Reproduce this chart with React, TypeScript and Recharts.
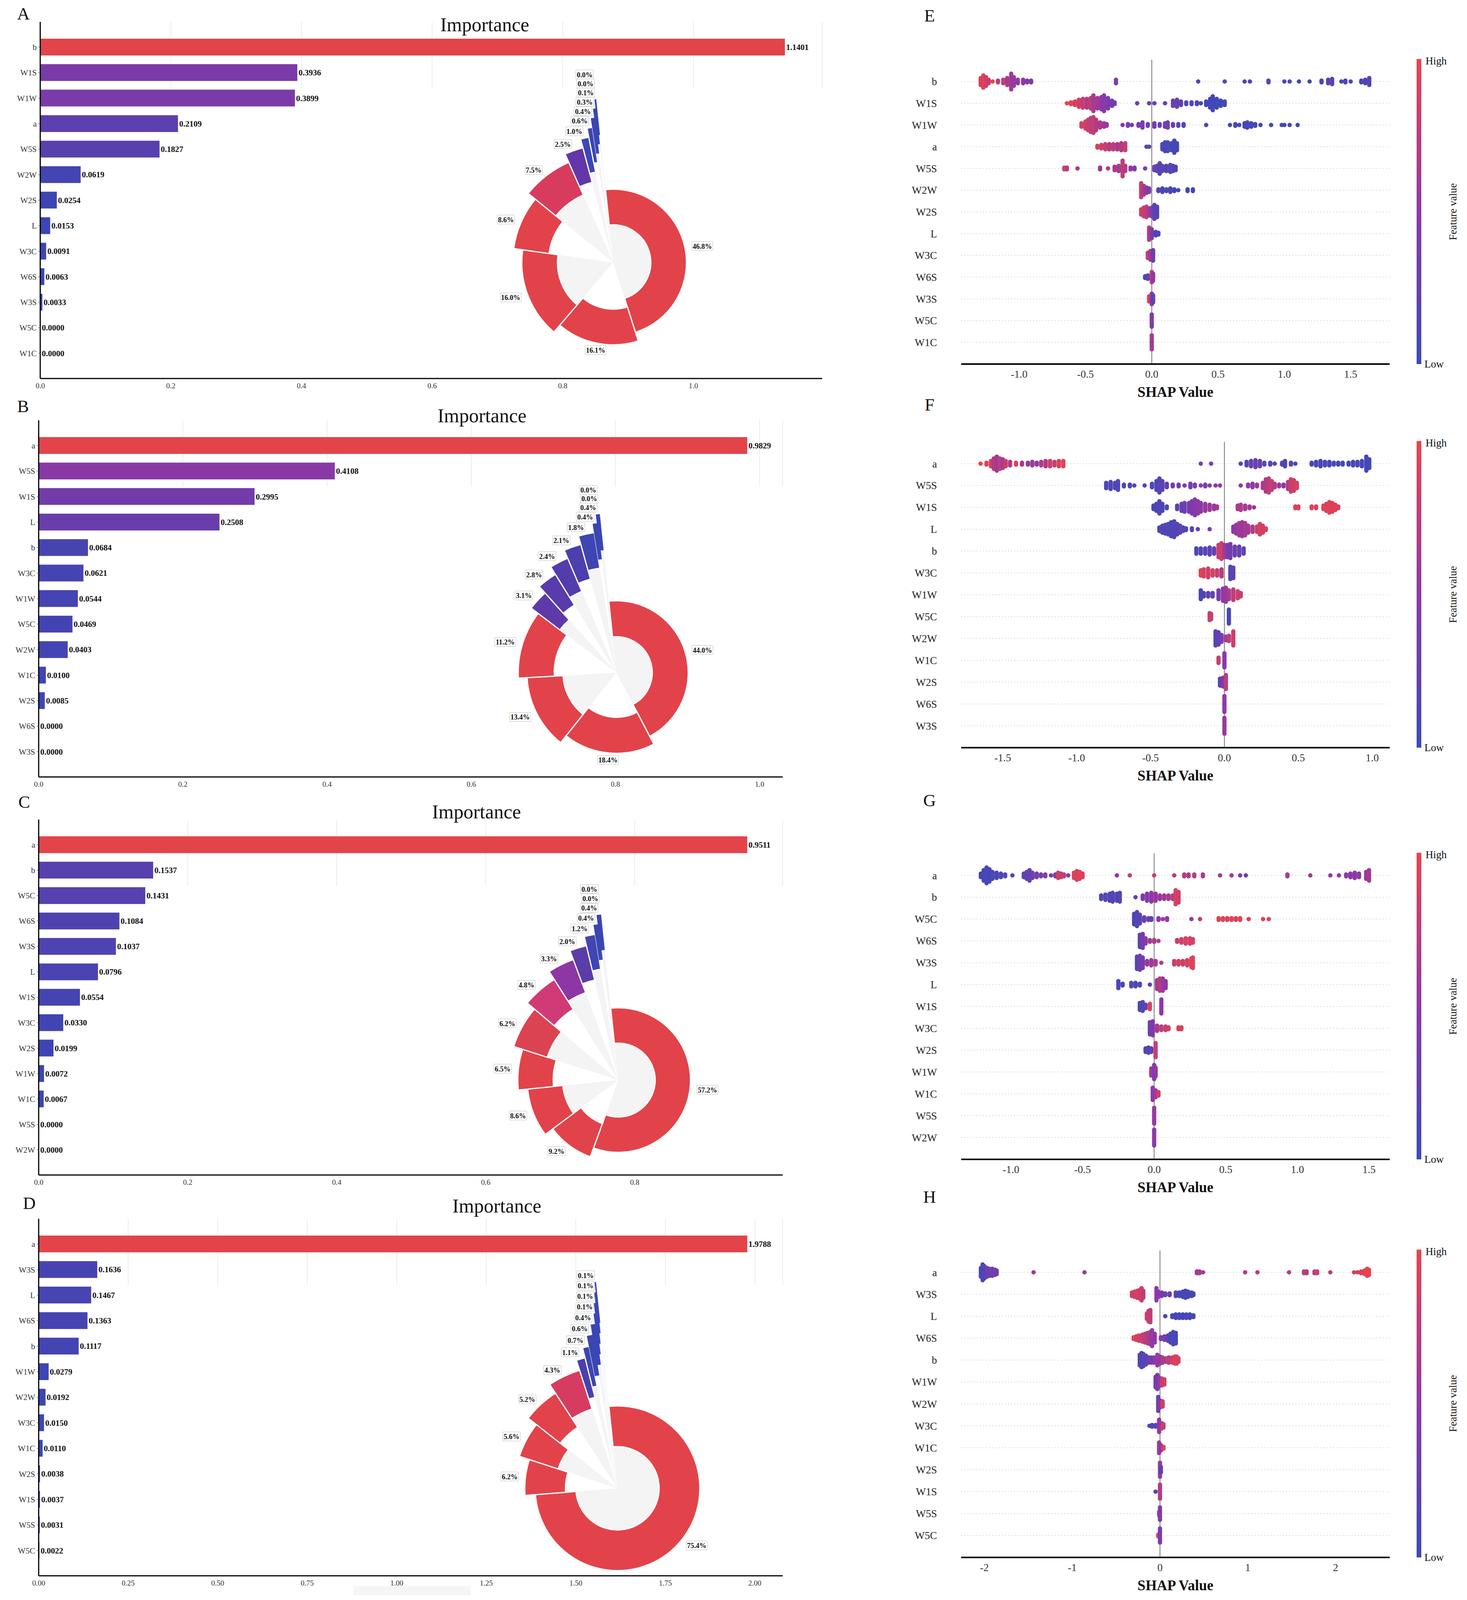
import React from "react";
import {
  BarChart,
  Bar,
  XAxis,
  YAxis,
  CartesianGrid,
  LabelList,
  Cell,
  PieChart,
  Pie,
  ScatterChart,
  Scatter,
  ReferenceLine,
} from "recharts";

const SERIF = "'Liberation Serif', 'Times New Roman', Times, serif";

// the browser captures 4096px of height, so the 5182px layout is packed vertically
const S = 4096 / 5182;
const R = 0.86; // radius scale of the nested pies
const y = (v: number) => Math.round(v * S);

// ---------- importance (left column) ----------
const namesA = ["b", "W1S", "W1W", "a", "W5S", "W2W", "W2S", "L", "W3C", "W6S", "W3S", "W5C", "W1C"];
const importanceA = [1.1401, 0.3936, 0.3899, 0.2109, 0.1827, 0.0619, 0.0254, 0.0153, 0.0091, 0.0063, 0.0033, 0.0, 0.0];
const ticksA = [0, 0.2, 0.4, 0.6, 0.8, 1.0];

const namesB = ["a", "W5S", "W1S", "L", "b", "W3C", "W1W", "W5C", "W2W", "W1C", "W2S", "W6S", "W3S"];
const importanceB = [0.9829, 0.4108, 0.2995, 0.2508, 0.0684, 0.0621, 0.0544, 0.0469, 0.0403, 0.01, 0.0085, 0.0, 0.0];
const ticksB = [0, 0.2, 0.4, 0.6, 0.8, 1.0];

const namesC = ["a", "b", "W5C", "W6S", "W3S", "L", "W1S", "W3C", "W2S", "W1W", "W1C", "W5S", "W2W"];
const importanceC = [0.9511, 0.1537, 0.1431, 0.1084, 0.1037, 0.0796, 0.0554, 0.033, 0.0199, 0.0072, 0.0067, 0.0, 0.0];
const ticksC = [0, 0.2, 0.4, 0.6, 0.8];

const namesD = ["a", "W3S", "L", "W6S", "b", "W1W", "W2W", "W3C", "W1C", "W2S", "W1S", "W5S", "W5C"];
const importanceD = [1.9788, 0.1636, 0.1467, 0.1363, 0.1117, 0.0279, 0.0192, 0.015, 0.011, 0.0038, 0.0037, 0.0031, 0.0022];
const ticksD = [0, 0.25, 0.5, 0.75, 1.0, 1.25, 1.5, 1.75, 2.0];

const RED = "#e2434a";
const BLU = "#3b46b3";
const pieColorsA = [RED, RED, RED, RED, "#d73c5f", "#6336aa", "#3c47b6", BLU, BLU, BLU, BLU, BLU, BLU];
const pieColorsB = [RED, RED, RED, RED, "#5e3aa9", "#583cab", "#533dac", "#4c3fae", "#3f45b2", BLU, BLU, BLU, BLU];
const pieColorsC = [RED, RED, RED, RED, "#dc4352", "#d03b76", "#8d37a4", "#5a3da9", "#3e46b3", BLU, BLU, BLU, BLU];
const pieColorsD = [RED, RED, RED, RED, "#d63c62", "#4a40ae", BLU, BLU, BLU, BLU, BLU, BLU, BLU];

// ---------- SHAP beeswarm (right column) ----------
// each cluster: [shap value, number of stacked samples, feature value 0 (low) .. 1 (high)]
type Cl = [number, number, number];

const featE = ["b", "W1S", "W1W", "a", "W5S", "W2W", "W2S", "L", "W3C", "W6S", "W3S", "W5C", "W1C"];
const shapE: Cl[][] = [
  [[-1.29,5,0.9],[-1.27,8,0.95],[-1.25,6,0.85],[-1.23,3,0.8],[-1.2,1,1],[-1.16,2,0.7],[-1.12,3,0.75],[-1.09,5,0.65],[-1.06,10,0.6],[-1.04,6,0.55],[-1.01,3,0.5],[-0.97,3,0.45],[-0.94,2,0.45],[-0.91,2,0.4],
   [-0.27,3,0.4],[0.35,1,0.1],[0.55,1,0.2],[0.7,1,0.1],[0.74,1,0.1],[0.88,2,0.15],[1.0,1,0.1],[1.04,1,0.1],[1.11,1,0.05],[1.19,1,0.05],[1.28,2,0.1],[1.33,3,0.15],[1.36,4,0.2],[1.43,1,0.05],[1.46,2,0.1],[1.5,1,0.1],[1.58,2,0.1],[1.61,3,0.1],[1.64,5,0.15]],
  [[-0.64,1,1],[-0.61,2,0.95],[-0.58,3,0.9],[-0.55,5,0.85],[-0.52,6,0.8],[-0.49,6,0.7],[-0.46,7,0.75],[-0.44,10,0.65],[-0.41,7,0.6],[-0.38,8,0.5],[-0.36,10,0.45],[-0.33,7,0.4],[-0.3,4,0.35],[-0.28,2,0.35],
   [-0.11,1,0.3],[-0.02,1,0.2],[0.02,1,0.2],[0.1,1,0.25],[0.16,4,0.3],[0.19,5,0.25],[0.22,3,0.2],[0.26,2,0.15],[0.3,2,0.1],[0.34,2,0.1],[0.37,1,0.1],[0.41,3,0.05],[0.44,6,0.05],[0.46,9,0.05],[0.49,6,0.05],[0.52,4,0.05],[0.55,3,0.05]],
  [[-0.53,3,0.9],[-0.5,5,0.85],[-0.48,7,0.8],[-0.46,9,0.75],[-0.44,10,0.8],[-0.42,7,0.7],[-0.39,4,0.65],[-0.36,3,0.6],[-0.34,2,0.55],
   [-0.22,1,0.4],[-0.18,2,0.4],[-0.15,1,0.35],[-0.1,2,0.35],[-0.07,4,0.4],[-0.03,2,0.3],[0.02,3,0.35],[0.06,2,0.3],[0.1,3,0.3],[0.12,4,0.35],[0.16,2,0.25],[0.2,2,0.2],[0.24,2,0.15],
   [0.41,1,0.1],[0.59,1,0.05],[0.63,2,0.1],[0.66,1,0.05],[0.7,3,0.05],[0.72,4,0.1],[0.75,3,0.05],[0.78,2,0.05],[0.82,1,0.05],[0.9,1,0.05],[0.98,1,0.05],[1.0,1,0.05],[1.04,1,0.05],[1.1,1,0.05]],
  [[-0.41,2,0.9],[-0.38,3,0.85],[-0.35,4,0.8],[-0.32,4,0.7],[-0.29,4,0.75],[-0.26,4,0.65],[-0.23,5,0.7],[-0.2,5,0.8],[-0.04,1,0.2],[-0.02,1,0.2],
   [0.08,4,0.1],[0.1,6,0.05],[0.12,6,0.1],[0.15,5,0.05],[0.17,8,0.05],[0.19,5,0.05]],
  [[-0.66,2,0.85],[-0.64,2,0.7],[-0.56,1,0.6],[-0.39,2,0.55],[-0.33,1,0.7],[-0.28,3,0.6],[-0.25,4,0.65],[-0.22,10,0.75],[-0.2,4,0.7],[-0.16,2,0.5],[-0.13,2,0.45],[-0.05,1,0.4],
   [0.02,3,0.3],[0.04,4,0.25],[0.06,7,0.15],[0.08,4,0.2],[0.11,4,0.15],[0.14,5,0.2],[0.16,4,0.15],[0.18,3,0.1]],
  [[-0.08,9,0.8],[-0.06,6,0.65],[-0.04,4,0.5],[-0.02,3,0.4],[0.05,2,0.15],[0.08,3,0.1],[0.11,2,0.1],[0.14,3,0.1],[0.17,2,0.05],[0.2,1,0.05],[0.27,2,0.05],[0.31,2,0.05]],
  [[-0.08,4,0.85],[-0.06,6,0.8],[-0.04,7,0.75],[-0.02,5,0.6],[0.0,6,0.4],[0.02,9,0.2],[0.04,7,0.15]],
  [[-0.02,8,0.7],[0.0,6,0.4],[0.03,3,0.1],[0.05,2,0.1]],
  [[-0.03,4,0.8],[-0.01,6,0.6],[0.01,7,0.3]],
  [[-0.05,2,0.1],[-0.03,3,0.2],[0.0,7,0.8],[0.01,5,0.5]],
  [[-0.02,4,0.9],[0.0,7,0.5],[0.01,5,0.2]],
  [[0.0,8,0.4]],
  [[0.0,9,0.6]],
];

const featF = ["a", "W5S", "W1S", "L", "b", "W3C", "W1W", "W5C", "W2W", "W1C", "W2S", "W6S", "W3S"];
const shapF: Cl[][] = [
  [[-1.65,1,1],[-1.61,2,0.95],[-1.58,4,0.85],[-1.56,7,0.7],[-1.54,9,0.6],[-1.52,7,0.75],[-1.5,6,0.65],[-1.48,4,0.8],[-1.45,3,0.7],[-1.41,2,0.9],[-1.37,2,0.6],[-1.33,2,0.55],[-1.3,3,0.6],[-1.27,2,0.5],[-1.24,3,0.7],[-1.21,4,0.65],[-1.18,4,0.85],[-1.15,3,0.8],[-1.12,4,0.9],[-1.09,4,0.95],
   [-0.16,1,0.4],[-0.09,1,0.4],
   [0.11,1,0.1],[0.15,3,0.2],[0.18,4,0.25],[0.21,5,0.3],[0.24,4,0.25],[0.27,2,0.2],[0.31,2,0.15],[0.34,1,0.1],[0.39,2,0.15],[0.41,4,0.1],[0.45,2,0.1],[0.48,1,0.1],
   [0.59,2,0.05],[0.62,3,0.1],[0.65,4,0.05],[0.68,3,0.1],[0.71,3,0.05],[0.74,2,0.1],[0.77,2,0.05],[0.8,2,0.1],[0.84,2,0.05],[0.87,3,0.05],[0.9,3,0.1],[0.93,4,0.05],[0.96,9,0.05],[0.98,6,0.05]],
  [[-0.8,4,0.1],[-0.77,5,0.15],[-0.74,4,0.1],[-0.72,6,0.15],[-0.68,2,0.1],[-0.64,2,0.1],[-0.61,1,0.1],[-0.54,1,0.15],[-0.49,3,0.15],[-0.46,6,0.1],[-0.44,9,0.15],[-0.42,6,0.2],[-0.39,3,0.2],[-0.35,2,0.3],[-0.31,2,0.35],[-0.27,1,0.3],[-0.23,3,0.35],[-0.2,2,0.4],[-0.16,1,0.45],[-0.13,2,0.4],[-0.1,1,0.45],[-0.06,1,0.45],[-0.03,1,0.5],
   [0.11,1,0.5],[0.16,2,0.55],[0.19,3,0.5],[0.22,2,0.6],[0.26,4,0.65],[0.28,8,0.7],[0.3,9,0.75],[0.32,6,0.8],[0.34,3,0.7],[0.37,2,0.55],[0.4,2,0.5],[0.43,5,0.7],[0.45,8,0.8],[0.47,7,0.85],[0.49,4,0.9]],
  [[-0.48,3,0.1],[-0.46,5,0.1],[-0.44,8,0.15],[-0.42,5,0.1],[-0.39,2,0.15],[-0.32,3,0.2],[-0.29,5,0.25],[-0.27,6,0.3],[-0.24,6,0.35],[-0.22,8,0.4],[-0.2,10,0.45],[-0.18,8,0.5],[-0.16,6,0.5],[-0.13,5,0.55],[-0.1,4,0.6],[-0.07,3,0.55],[-0.05,2,0.6],
   [0.09,3,0.65],[0.11,4,0.7],[0.14,3,0.6],[0.17,2,0.6],[0.2,1,0.55],
   [0.48,2,0.95],[0.5,2,0.9],[0.59,2,0.95],[0.62,2,0.9],[0.67,3,0.95],[0.69,5,0.9],[0.71,7,0.95],[0.73,6,0.9],[0.75,4,0.95],[0.77,2,0.9]],
  [[-0.44,3,0.1],[-0.42,5,0.15],[-0.4,6,0.1],[-0.38,7,0.15],[-0.36,9,0.1],[-0.34,10,0.15],[-0.32,7,0.1],[-0.3,5,0.2],[-0.28,3,0.2],[-0.26,2,0.15],[-0.22,2,0.2],[-0.18,1,0.25],[-0.1,1,0.4],
   [0.06,4,0.5],[0.08,6,0.55],[0.1,8,0.6],[0.12,9,0.55],[0.14,8,0.65],[0.16,5,0.6],[0.19,4,0.7],[0.22,4,0.8],[0.24,7,0.9],[0.26,5,0.85],[0.28,2,0.9]],
  [[-0.19,4,0.1],[-0.16,4,0.15],[-0.13,4,0.15],[-0.1,5,0.2],[-0.07,4,0.25],[-0.04,8,0.8],[-0.02,10,0.85],[0.0,8,0.6],[0.02,8,0.4],[0.04,9,0.35],[0.07,6,0.3],[0.1,6,0.25],[0.13,4,0.2]],
  [[-0.16,4,0.95],[-0.14,5,0.9],[-0.11,6,0.85],[-0.08,4,0.9],[-0.05,4,0.8],[-0.02,5,0.7],[0.04,8,0.15],[0.06,7,0.2]],
  [[-0.16,6,0.1],[-0.14,3,0.15],[-0.11,3,0.2],[-0.08,3,0.25],[-0.04,6,0.4],[-0.01,8,0.5],[0.01,9,0.55],[0.03,6,0.65],[0.06,7,0.75],[0.09,5,0.85],[0.11,3,0.8]],
  [[-0.1,5,0.85],[-0.09,4,0.8],[0.03,9,0.1]],
  [[-0.06,9,0.15],[-0.04,8,0.2],[-0.02,5,0.4],[0.01,3,0.55],[0.03,4,0.75],[0.06,9,0.85]],
  [[-0.04,4,0.8],[0.0,9,0.45]],
  [[-0.03,5,0.2],[-0.01,6,0.4],[0.01,9,0.75]],
  [[0.0,10,0.5]],
  [[0.0,10,0.55]],
];

const featG = ["a", "b", "W5C", "W6S", "W3S", "L", "W1S", "W3C", "W2S", "W1W", "W1C", "W5S", "W2W"];
const shapG: Cl[][] = [
  [[-1.21,3,0.05],[-1.19,7,0.05],[-1.17,10,0.1],[-1.15,8,0.05],[-1.13,5,0.1],[-1.1,4,0.1],[-1.07,3,0.1],[-1.04,2,0.15],[-0.99,1,0.15],
   [-0.91,3,0.15],[-0.89,5,0.2],[-0.87,7,0.25],[-0.85,4,0.3],[-0.82,3,0.35],[-0.79,2,0.3],[-0.76,2,0.4],[-0.72,1,0.35],[-0.69,2,0.4],[-0.67,4,0.85],[-0.65,3,0.8],[-0.63,2,0.75],[-0.6,1,0.45],[-0.56,4,0.95],[-0.54,6,0.9],[-0.52,5,0.95],[-0.5,3,0.9],
   [-0.26,1,0.5],[-0.17,1,0.8],[0.0,1,0.8],[0.14,1,0.7],[0.21,2,0.7],[0.24,2,0.65],[0.28,2,0.7],[0.34,2,0.65],[0.46,1,0.6],[0.54,1,0.6],[0.6,1,0.4],[0.64,1,0.35],
   [0.93,2,0.6],[1.09,1,0.6],[1.23,1,0.55],[1.29,1,0.55],[1.34,2,0.5],[1.37,3,0.45],[1.4,4,0.5],[1.43,3,0.45],[1.48,5,0.55],[1.5,7,0.6]],
  [[-0.37,3,0.1],[-0.34,4,0.15],[-0.31,5,0.1],[-0.29,6,0.15],[-0.26,5,0.1],[-0.24,6,0.15],[-0.13,1,0.2],[-0.08,3,0.4],[-0.05,5,0.45],[-0.02,6,0.5],[0.01,5,0.55],[0.04,3,0.55],[0.07,3,0.6],[0.1,3,0.65],[0.13,3,0.7],[0.15,9,0.9],[0.17,7,0.85]],
  [[-0.14,7,0.1],[-0.12,9,0.15],[-0.1,6,0.2],[-0.07,3,0.25],[-0.04,2,0.3],[-0.02,2,0.2],[0.03,2,0.5],[0.06,1,0.55],[0.09,2,0.5],[0.26,1,0.55],[0.32,1,0.75],[0.45,2,0.9],[0.48,2,0.95],[0.51,2,0.9],[0.54,2,0.95],[0.57,2,0.9],[0.6,2,0.95],[0.66,1,0.9],[0.76,1,0.95],[0.8,1,0.95]],
  [[-0.1,8,0.2],[-0.08,9,0.35],[-0.06,4,0.5],[-0.03,2,0.6],[0.0,2,0.65],[0.03,1,0.7],[0.16,2,0.8],[0.19,3,0.85],[0.22,4,0.9],[0.25,4,0.85],[0.27,3,0.9]],
  [[-0.12,8,0.2],[-0.1,9,0.3],[-0.08,7,0.35],[-0.05,3,0.55],[-0.02,4,0.6],[0.01,3,0.65],[0.05,1,0.7],[0.14,3,0.8],[0.17,3,0.85],[0.2,3,0.85],[0.23,4,0.9],[0.26,6,0.9],[0.27,7,0.95]],
  [[-0.25,5,0.1],[-0.22,2,0.1],[-0.16,3,0.15],[-0.13,3,0.1],[-0.1,2,0.15],[-0.03,1,0.2],[0.02,6,0.6],[0.04,8,0.7],[0.06,8,0.6],[0.08,5,0.5]],
  [[-0.1,5,0.1],[-0.08,6,0.15],[-0.06,3,0.2],[-0.03,4,0.9],[0.05,9,0.5]],
  [[-0.03,8,0.3],[-0.01,9,0.4],[0.02,4,0.65],[0.05,3,0.75],[0.08,3,0.8],[0.1,2,0.85],[0.17,2,0.9],[0.19,2,0.9]],
  [[-0.06,3,0.1],[-0.04,4,0.15],[-0.02,3,0.2],[0.01,9,0.8]],
  [[-0.02,5,0.6],[0.0,9,0.4],[0.01,6,0.5]],
  [[-0.01,8,0.5],[0.01,5,0.6],[0.03,3,0.85]],
  [[0.0,10,0.55]],
  [[0.0,10,0.5]],
];

const featH = ["a", "W3S", "L", "W6S", "b", "W1W", "W2W", "W3C", "W1C", "W2S", "W1S", "W5S", "W5C"];
const shapH: Cl[][] = [
  [[-2.04,6,0.1],[-2.02,10,0.1],[-2.0,8,0.15],[-1.97,6,0.3],[-1.94,5,0.35],[-1.91,5,0.3],[-1.88,4,0.35],[-1.86,3,0.3],[-1.44,1,0.6],[-0.86,1,0.6],[0.42,2,0.6],[0.45,2,0.65],[0.49,1,0.6],[0.97,1,0.7],[1.11,1,0.7],[1.47,1,0.7],[1.64,2,0.75],[1.67,2,0.7],[1.76,2,0.75],[1.79,2,0.8],[1.94,1,0.75],[2.21,1,0.9],[2.25,1,0.85],[2.29,2,0.9],[2.33,3,0.95],[2.36,5,0.95],[2.38,4,1]],
  [[-0.32,3,0.9],[-0.29,4,0.85],[-0.26,5,0.9],[-0.23,6,0.8],[-0.21,8,0.85],[-0.19,5,0.75],[-0.04,8,0.5],[-0.02,4,0.45],[0.02,3,0.35],[0.06,2,0.3],[0.11,2,0.25],[0.18,3,0.1],[0.22,3,0.1],[0.26,4,0.05],[0.29,5,0.1],[0.32,4,0.05],[0.36,3,0.1],[0.38,2,0.05]],
  [[-0.15,4,0.85],[-0.13,7,0.8],[-0.11,8,0.75],[0.06,1,0.1],[0.14,2,0.1],[0.18,3,0.05],[0.22,3,0.1],[0.26,3,0.05],[0.3,3,0.1],[0.34,3,0.05],[0.38,2,0.1]],
  [[-0.3,2,0.95],[-0.27,3,0.9],[-0.24,4,0.85],[-0.2,5,0.8],[-0.17,6,0.75],[-0.14,7,0.7],[-0.11,8,0.6],[-0.09,10,0.55],[-0.06,6,0.5],[0.01,2,0.4],[0.05,3,0.35],[0.09,4,0.2],[0.12,6,0.1],[0.15,8,0.1],[0.18,7,0.05]],
  [[-0.23,7,0.1],[-0.21,9,0.1],[-0.19,8,0.15],[-0.16,6,0.2],[-0.13,4,0.3],[-0.1,4,0.35],[-0.07,4,0.45],[-0.03,7,0.55],[0.0,5,0.5],[0.03,4,0.65],[0.07,3,0.7],[0.1,4,0.75],[0.14,4,0.85],[0.17,5,0.9],[0.19,5,0.95],[0.21,3,0.9]],
  [[-0.05,7,0.3],[-0.03,9,0.35],[-0.01,6,0.5],[0.02,5,0.8],[0.05,4,0.85]],
  [[-0.02,9,0.3],[0.0,5,0.5],[0.03,4,0.85]],
  [[-0.12,1,0.1],[-0.09,2,0.1],[-0.05,2,0.2],[-0.01,8,0.5],[0.02,4,0.7],[0.04,3,0.85]],
  [[-0.01,7,0.6],[0.01,4,0.5],[0.04,2,0.95]],
  [[0.0,9,0.6],[0.01,4,0.2]],
  [[-0.05,1,0.1],[0.0,9,0.7]],
  [[-0.01,3,0.85],[0.0,8,0.4]],
  [[-0.02,2,0.9],[0.0,9,0.4]],
];

// ---------- colour helpers ----------
function hexRgb(h: string) {
  const n = parseInt(h.slice(1), 16);
  return [(n >> 16) & 255, (n >> 8) & 255, n & 255];
}
function ramp(stops: string[], t: number) {
  const v = Math.max(0, Math.min(1, t)) * (stops.length - 1);
  const i = Math.min(stops.length - 2, Math.floor(v));
  const f = v - i;
  const a = hexRgb(stops[i]);
  const b = hexRgb(stops[i + 1]);
  const c = a.map((x, k) => Math.round(x + (b[k] - x) * f));
  return `rgb(${c[0]},${c[1]},${c[2]})`;
}
const barStops = ["#3a46b4", "#9736a3", "#e3444a"];
const shapStops = ["#3b4ab9", "#8f38a8", "#ea434b"];

// ---------- importance panel ----------
function pctLabel(k: number) {
  return (p: any) => {
    if (p.index !== k) return null;
    const RAD = Math.PI / 180;
    const r = p.outerRadius + 18;
    const cos = Math.cos(p.midAngle * RAD);
    const sin = Math.sin(p.midAngle * RAD);
    const x = p.cx + r * cos;
    const yy = p.cy - r * sin;
    const txt = ((p.percent || 0) * 100).toFixed(1) + "%";
    const fs = 18;
    const w = txt.length * fs * 0.5 + 9;
    const h = fs + 5;
    const anchor = cos > 0.35 ? "start" : sin < 0 && cos > -0.35 ? "middle" : "end";
    const left = anchor === "start" ? x : anchor === "middle" ? x - w / 2 : x - w;
    return (
      <g key={`lab-${k}`}>
        <rect x={left} y={yy - h / 2} width={w} height={h} fill="#fff" stroke="#d4d4d4" strokeWidth={1.5} rx={2} />
        <text x={left + w / 2} y={yy + 1} textAnchor="middle" dominantBaseline="central" fontFamily={SERIF} fontWeight="bold" fontSize={fs} fill="#111">
          {txt}
        </text>
      </g>
    );
  };
}

type BarPanelProps = {
  top: number;
  height: number;
  right: number;
  axisX: number;
  names: string[];
  values: number[];
  ticks: number[];
  digits: number;
  pieColors: string[];
  pie: { cx: number; cy: number; rin: number; rout: number; dr: number };
  letter: string;
  letterX: number;
  letterY: number;
  titleX: number;
  titleY: number;
};

function BarPanel(props: BarPanelProps) {
  const { top, height, right, axisX, names, values, ticks, digits, pieColors, pie } = props;
  const width = 2150;
  const max = Math.max(...values);
  const total = values.reduce((s, v) => s + v, 0);
  const data = names.map((name, i) => ({ name, value: values[i] }));
  const gridLine = (g: any) => {
    if (g.x1 <= axisX + 2) return <g key={g.key} />;
    return <line key={g.key} x1={g.x1} x2={g.x2} y1={g.y1} y2={g.y1 + y(215)} stroke="#ececec" strokeWidth={2} />;
  };
  return (
    <>
      <div style={{ position: "absolute", left: 0, top, width, height }}>
        <BarChart
          width={width}
          height={height}
          data={data}
          layout="vertical"
          margin={{ top: y(71), right: width - right, bottom: 0, left: 0 }}
        >
          <CartesianGrid horizontal={false} vertical={gridLine} />
          <XAxis
            type="number"
            domain={[0, max * 1.05]}
            ticks={ticks}
            tickFormatter={(v: number) => v.toFixed(digits)}
            axisLine={{ stroke: "#000", strokeWidth: 3 }}
            tickLine={false}
            tickMargin={6}
            height={y(50)}
            tick={{ fontSize: 19, fill: "#333", fontFamily: SERIF }}
          />
          <YAxis
            type="category"
            dataKey="name"
            width={axisX}
            interval={0}
            padding={{ top: y(40), bottom: y(40) }}
            axisLine={{ stroke: "#000", strokeWidth: 3 }}
            tickLine={{ stroke: "#444" }}
            tickSize={5}
            tickMargin={4}
            tick={{ fontSize: 21, fill: "#333", fontFamily: SERIF }}
          />
          <Bar dataKey="value" barSize={y(55)} minPointSize={1} isAnimationActive={false}>
            {data.map((d, i) => (
              <Cell key={i} fill={ramp(barStops, d.value / max)} />
            ))}
            <LabelList
              dataKey="value"
              position="right"
              offset={3}
              formatter={(v: any) => Number(v).toFixed(4)}
              fill="#111"
              fontSize={21}
              fontWeight="bold"
              fontFamily={SERIF}
            />
          </Bar>
        </BarChart>
      </div>
      <div style={{ position: "absolute", left: 0, top, width, height, pointerEvents: "none" }}>
        <PieChart width={width} height={height} margin={{ top: 0, right: 0, bottom: 0, left: 0 }}>
          {data.map((_, k) =>
            k % 2 === 0 ? (
              <Pie
                key={`g${k}`}
                data={data}
                dataKey="value"
                cx={pie.cx}
                cy={pie.cy}
                innerRadius={0}
                outerRadius={pie.rin + k * pie.dr}
                startAngle={96}
                endAngle={-264}
                stroke="none"
                isAnimationActive={false}
              >
                {data.map((_, i) => (
                  <Cell key={i} fill={i === k ? "#f4f4f4" : "transparent"} stroke="none" />
                ))}
              </Pie>
            ) : null
          )}
          {data.map((_, k) => (
            <Pie
              key={`s${k}`}
              data={data}
              dataKey="value"
              cx={pie.cx}
              cy={pie.cy}
              innerRadius={pie.rin + k * pie.dr}
              outerRadius={pie.rout + k * pie.dr}
              startAngle={96}
              endAngle={-264}
              labelLine={false}
              label={pctLabel(k)}
              isAnimationActive={false}
            >
              {data.map((d, i) => {
                const thin = d.value / total < 0.006;
                return (
                  <Cell
                    key={i}
                    fill={i === k ? pieColors[i] : "transparent"}
                    stroke={i === k ? (thin ? pieColors[i] : "#fff") : "none"}
                    strokeWidth={i === k ? (thin ? 1 : 3) : 0}
                  />
                );
              })}
            </Pie>
          ))}
        </PieChart>
      </div>
      <div style={{ position: "absolute", left: props.titleX, top: props.titleY, transform: "translate(-50%,-50%)", fontFamily: SERIF, fontSize: 50, lineHeight: 1, whiteSpace: "nowrap", color: "#111" }}>
        Importance
      </div>
      <div style={{ position: "absolute", left: props.letterX, top: props.letterY, transform: "translate(-50%,-50%)", fontFamily: SERIF, fontSize: 45, lineHeight: 1, color: "#111" }}>
        {props.letter}
      </div>
    </>
  );
}

// ---------- SHAP panel ----------
function swarm(rows: Cl[][]) {
  const pts: { x: number; y: number; c: number }[] = [];
  rows.forEach((row, i) =>
    row.forEach(([x, n, c]) => {
      for (let k = 0; k < n; k++) pts.push({ x, y: i + (k - (n - 1) / 2) * 0.08, c });
    })
  );
  return pts;
}

type ShapProps = {
  plotTop: number;
  plotH: number;
  feats: string[];
  rows: Cl[][];
  domain: [number, number];
  ticks: number[];
  digits: number;
  letter: string;
  letterY: number;
};

function ShapPanel(props: ShapProps) {
  const { plotTop, plotH, feats, rows, domain, ticks, digits } = props;
  const left = 2250;
  const width = 1360;
  const plotLeft = 2461;
  const plotRight = 3558;
  const pts = swarm(rows);
  const rowIdx = feats.map((_, i) => i);
  const barTop = plotTop - 2;
  const barBottom = plotTop + plotH;
  const text = { position: "absolute" as const, fontFamily: SERIF, lineHeight: 1, color: "#111", whiteSpace: "nowrap" as const };
  return (
    <>
      <div style={{ position: "absolute", left, top: plotTop - 10 }}>
        <ScatterChart
          width={width}
          height={plotH + 60}
          margin={{ top: 10, right: left + width - plotRight, bottom: 0, left: 0 }}
        >
          <XAxis
            type="number"
            dataKey="x"
            domain={domain}
            ticks={ticks}
            allowDataOverflow
            tickFormatter={(v: number) => v.toFixed(digits)}
            axisLine={{ stroke: "#000", strokeWidth: 4 }}
            tickLine={false}
            tickMargin={10}
            height={50}
            tick={{ fontSize: 27, fill: "#333", fontFamily: SERIF }}
          />
          <YAxis
            type="number"
            dataKey="y"
            domain={[-1, 13]}
            reversed
            ticks={rowIdx}
            interval={0}
            tickFormatter={(v: number) => feats[v] ?? ""}
            width={plotLeft - left}
            axisLine={false}
            tickLine={false}
            tickSize={0}
            tickMargin={62}
            tick={{ fontSize: 27, fill: "#222", fontFamily: SERIF }}
          />
          {rowIdx.map((i) => (
            <ReferenceLine key={i} y={i} stroke="#cdcdcd" strokeWidth={2} strokeDasharray="2 6" />
          ))}
          <ReferenceLine x={0} stroke="#8c8c8c" strokeWidth={2.5} />
          <Scatter
            data={pts}
            isAnimationActive={false}
            shape={(p: any) => (
              <circle cx={p.cx} cy={p.cy} r={5.6} fill={ramp(shapStops, p.payload ? p.payload.c : p.c)} />
            )}
          />
        </ScatterChart>
      </div>
      <div
        style={{
          position: "absolute",
          left: 3627,
          top: barTop,
          width: 12,
          height: barBottom - barTop,
          background: "linear-gradient(to top, #3b4ab9, #8f38a8 50%, #ea434b)",
        }}
      />
      <div style={{ ...text, left: 3650, top: barTop, transform: "translateY(-30%)", fontSize: 27 }}>High</div>
      <div style={{ ...text, left: 3647, top: barBottom, transform: "translateY(-50%)", fontSize: 27 }}>Low</div>
      <div
        style={{
          ...text,
          left: 3720,
          top: (barTop + barBottom) / 2,
          transform: "translate(-50%,-50%) rotate(-90deg)",
          fontSize: 27,
        }}
      >
        Feature value
      </div>
      <div style={{ ...text, left: (plotLeft + plotRight) / 2, top: plotTop + plotH + y(90), transform: "translate(-50%,-50%)", fontSize: 37, fontWeight: "bold" }}>
        SHAP Value
      </div>
      <div style={{ ...text, left: 2380, top: props.letterY, transform: "translate(-50%,-50%)", fontSize: 45 }}>
        {props.letter}
      </div>
    </>
  );
}

function pieGeom(cx: number, cyPage: number, top: number, rin: number, rout: number, dr: number) {
  return { cx, cy: y(cyPage) - y(top), rin: rin * R, rout: rout * R, dr: dr * R };
}

export default function App() {
  return (
    <div style={{ position: "relative", width: 3756, height: 4096, background: "#fff", overflow: "hidden" }}>
      <style>{"body{margin:0;background:#fff}"}</style>
      <BarPanel
        top={y(0)} height={y(1276)} right={2105} axisX={103}
        names={namesA} values={importanceA} ticks={ticksA} digits={1}
        pieColors={pieColorsA} pie={pieGeom(1570, 850, 0, 112, 218, 27)}
        letter="A" letterX={60} letterY={y(44)} titleX={1241} titleY={y(80)}
      />
      <BarPanel
        top={y(1290)} height={y(1277)} right={2004} axisX={99}
        names={namesB} values={importanceB} ticks={ticksB} digits={1}
        pieColors={pieColorsB} pie={pieGeom(1578, 2178, 1290, 107, 214, 26)}
        letter="B" letterX={59} letterY={y(1316)} titleX={1234} titleY={y(1346)}
      />
      <BarPanel
        top={y(2583)} height={y(1273)} right={2004} axisX={99}
        names={namesC} values={importanceC} ticks={ticksC} digits={1}
        pieColors={pieColorsC} pie={pieGeom(1583, 3498, 2583, 110, 215, 28)}
        letter="C" letterX={62} letterY={y(2597)} titleX={1220} titleY={y(2629)}
      />
      <BarPanel
        top={y(3876)} height={y(1278)} right={2004} axisX={99}
        names={namesD} values={importanceD} ticks={ticksD} digits={2}
        pieColors={pieColorsD} pie={pieGeom(1581, 4820, 3876, 124, 245, 31)}
        letter="D" letterX={75} letterY={y(3896)} titleX={1272} titleY={y(3906)}
      />
      <div style={{ position: "absolute", left: 905, top: y(5137), width: 300, height: y(30), background: "#f5f5f5" }} />

      <ShapPanel plotTop={y(193)} plotH={y(986)} feats={featE} rows={shapE} domain={[-1.437, 1.794]} ticks={[-1, -0.5, 0, 0.5, 1, 1.5]} digits={1} letter="E" letterY={y(51)} />
      <ShapPanel plotTop={y(1431)} plotH={y(991)} feats={featF} rows={shapF} domain={[-1.781, 1.118]} ticks={[-1.5, -1, -0.5, 0, 0.5, 1]} digits={1} letter="F" letterY={y(1311)} />
      <ShapPanel plotTop={y(2764)} plotH={y(990)} feats={featG} rows={shapG} domain={[-1.347, 1.644]} ticks={[-1, -0.5, 0, 0.5, 1, 1.5]} digits={1} letter="G" letterY={y(2592)} />
      <ShapPanel plotTop={y(4050)} plotH={y(994)} feats={featH} rows={shapH} domain={[-2.264, 2.616]} ticks={[-2, -1, 0, 1, 2]} digits={0} letter="H" letterY={y(3877)} />
    </div>
  );
}
